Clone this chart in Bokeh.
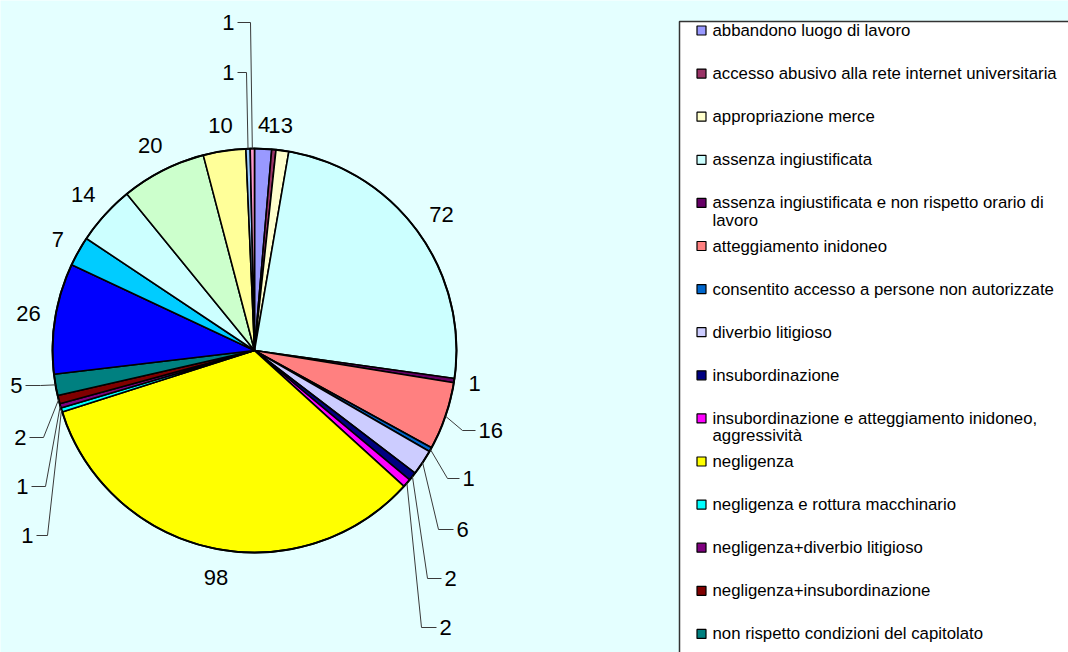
import textwrap
import numpy as np
from bokeh.plotting import figure
from bokeh.models import Range1d, ColumnDataSource
from bokeh.core.properties import value
from bokeh.embed import file_html
from bokeh.resources import INLINE

# ---------------- data ----------------
categories = [
    "abbandono luogo di lavoro",
    "accesso abusivo alla rete internet universitaria",
    "appropriazione merce",
    "assenza ingiustificata",
    "assenza ingiustificata e non rispetto orario di lavoro",
    "atteggiamento inidoneo",
    "consentito accesso a persone non autorizzate",
    "diverbio litigioso",
    "insubordinazione",
    "insubordinazione e atteggiamento inidoneo, aggressività",
    "negligenza",
    "negligenza e rottura macchinario",
    "negligenza+diverbio litigioso",
    "negligenza+insubordinazione",
    "non rispetto condizioni del capitolato",
]
values = [4, 1, 3, 72, 1, 16, 1, 6, 2, 2, 98, 1, 1, 2, 5, 26, 7, 14, 20, 10, 1, 1]
colors = ["#9999FF", "#993366", "#FFFFCC", "#CCFFFF", "#660066", "#FF8080",
          "#0066CC", "#CCCCFF", "#000080", "#FF00FF", "#FFFF00", "#00FFFF",
          "#800080", "#800000", "#008080", "#0000FF", "#00CCFF", "#CCFFFF",
          "#CCFFCC", "#FFFF99", "#99CCFF", "#FF99CC"]

# ---------------- layout ----------------
W, H = 1068, 652
BG = "#E4FFFF"
FONT = "Liberation Sans"


def Y(ry):
    """reference pixel row -> data y"""
    return 652 - ry


CX, CY, R = 254, Y(350), 202
LABEL_FS = 22
LEG_FS = 16.8

# leader-line labels: slice index -> (text edge x, text y, elbow x)
leader_labels = {
    5: (478, 430, 462), 6: (462, 478, 447), 7: (456, 529, 438),
    8: (444, 578, 427), 9: (439, 627, 421),
    11: (33, 535, 47), 12: (28, 486, 45), 13: (26, 437, 43), 14: (22, 385, 40),
    20: (234, 72, 246), 21: (234, 22, 250),
}
# small manual nudges of outside-end labels (dx, dy in pixels, dy downwards)
label_nudge = {1: (-2, 0), 2: (1, 0), 10: (10, 4)}

p = figure(width=W, height=H, x_range=Range1d(0, W), y_range=Range1d(652 - H, 652),
           output_backend="svg", toolbar_location=None, min_border=0,
           x_axis_location=None, y_axis_location=None)
p.grid.grid_line_color = None
p.outline_line_color = None
p.background_fill_color = BG
p.border_fill_color = BG

# ---------------- pie ----------------
vals = np.array(values, dtype=float)
cum = np.concatenate([[0.0], np.cumsum(vals)])
total = cum[-1]
th0 = 2 * np.pi * cum[:-1] / total          # clockwise from 12 o'clock
th1 = 2 * np.pi * cum[1:] / total
mid = (th0 + th1) / 2

src = ColumnDataSource(dict(start=np.pi / 2 - th1, end=np.pi / 2 - th0, color=colors))
p.wedge(x=CX, y=CY, radius=R, start_angle="start", end_angle="end",
        fill_color="color", line_color="black", line_width=1.6, source=src)
p.circle(x=CX, y=CY, radius=R, fill_color=None, line_color="black", line_width=2)

# ---------------- labels ----------------
lx, ly, lt, la = [], [], [], []
seg_x, seg_y = [], []
for i, v in enumerate(values):
    txt = str(v)
    if i in leader_labels:
        ex, ty, elx = leader_labels[i]
        rim_x = CX + R * np.sin(mid[i])
        rim_y = CY + R * np.cos(mid[i])
        if ex > CX:
            end_x, align = ex - 3, "left"
        else:
            end_x, align = ex + 3, "right"
        seg_x.append([rim_x, elx, end_x])
        seg_y.append([rim_y, Y(ty), Y(ty)])
        lx.append(ex)
        ly.append(Y(ty))
        lt.append(txt)
        la.append(align)
    else:
        w = 0.556 * LABEL_FS * len(txt)
        h = LABEL_FS * 1.0
        proj = abs(np.sin(mid[i])) * w / 2 + abs(np.cos(mid[i])) * h / 2
        rad = R + 13 + proj
        dx, dy = label_nudge.get(i, (0, 0))
        lx.append(CX + rad * np.sin(mid[i]) + dx)
        ly.append(CY + rad * np.cos(mid[i]) - dy)
        lt.append(txt)
        la.append("center")

p.multi_line(xs=seg_x, ys=seg_y, line_color="#3a3a3a", line_width=1)
p.text(x=lx, y=ly, text=lt, text_align=la, text_baseline="middle",
       text_font=value(FONT), text_font_size=f"{LABEL_FS}px", text_color="black")

# ---------------- legend ----------------
p.quad(left=679, right=1300, top=Y(21), bottom=Y(900),
       fill_color="white", line_color="#333333", line_width=1.5)

mk_x, mk_y, mk_c = [], [], []
tx, ty_, tt = [], [], []
for i, name in enumerate(categories):
    ry = 30 + 43.1 * i
    mk_x.append(701)
    mk_y.append(Y(ry))
    mk_c.append(colors[i])
    for j, line in enumerate(textwrap.wrap(name, 48)):
        tx.append(712)
        ty_.append(Y(ry + 17.5 * j))
        tt.append(line)

p.rect(x=mk_x, y=mk_y, width=9, height=9, fill_color=mk_c, line_color="black", line_width=1.2)
p.text(x=tx, y=ty_, text=tt, text_align="left", text_baseline="middle",
       text_font=value(FONT), text_font_size=f"{LEG_FS}px", text_color="black")

open("out.html", "w").write(file_html(p, INLINE))
